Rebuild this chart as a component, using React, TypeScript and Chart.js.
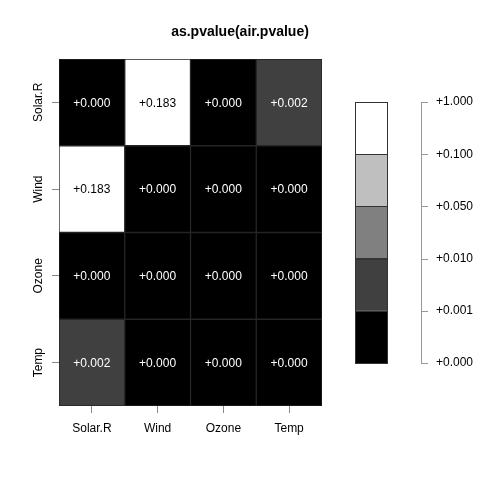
import React, { useEffect, useRef } from "react";
import { Chart, registerables } from "chart.js";

Chart.register(...registerables);

const titleText = "as.pvalue(air.pvalue)";
const colLabels = ["Solar.R", "Wind", "Ozone", "Temp"];
const rowLabels = ["Solar.R", "Wind", "Ozone", "Temp"];
const rowSolarR = [0.0, 0.183, 0.0, 0.002];
const rowWind = [0.183, 0.0, 0.0, 0.0];
const rowOzone = [0.0, 0.0, 0.0, 0.0];
const rowTemp = [0.002, 0.0, 0.0, 0.0];
const rows = [rowSolarR, rowWind, rowOzone, rowTemp];

const breaks = [0, 0.001, 0.01, 0.05, 0.1, 1];
const bandColors = ["#000000", "#404040", "#808080", "#BFBFBF", "#FFFFFF"];
const breakLabels = ["+0.000", "+0.001", "+0.010", "+0.050", "+0.100", "+1.000"];

const FONT = "'Liberation Sans', Arial, sans-serif";

function colorFor(v: number): string {
  for (let i = 0; i < bandColors.length; i++) {
    if (v >= breaks[i] && v < breaks[i + 1]) return bandColors[i];
  }
  return bandColors[bandColors.length - 1];
}

function textColorFor(v: number): string {
  const c = colorFor(v);
  return c === "#FFFFFF" || c === "#BFBFBF" ? "#000000" : "#FFFFFF";
}

const areaBgPlugin = {
  id: "areaBg",
  beforeDatasetsDraw(chart: any) {
    const { ctx, chartArea } = chart;
    ctx.save();
    ctx.fillStyle = "#161616";
    ctx.fillRect(chartArea.left, chartArea.top, chartArea.right - chartArea.left, chartArea.bottom - chartArea.top);
    ctx.restore();
  },
};

const cellTextPlugin = {
  id: "cellText",
  afterDatasetsDraw(chart: any) {
    const ctx = chart.ctx;
    ctx.save();
    ctx.font = `12px ${FONT}`;
    ctx.textAlign = "center";
    ctx.textBaseline = "middle";
    chart.data.datasets.forEach((ds: any, di: number) => {
      const meta = chart.getDatasetMeta(di);
      meta.data.forEach((el: any, i: number) => {
        const p = ds.data[i].p as number;
        const props = el.getProps(["x", "y", "base"], true);
        ctx.fillStyle = textColorFor(p);
        ctx.fillText("+" + p.toFixed(3), props.x, (props.y + props.base) / 2 + 1);
      });
    });
    ctx.restore();
  },
};

const colorbarPlugin = {
  id: "colorbar",
  afterDraw(chart: any) {
    const ctx = chart.ctx;
    const left = 355;
    const right = 388;
    const top = 102;
    const bottom = 363;
    const axisX = 421;
    const n = bandColors.length;
    const h = (bottom - top) / n;
    const yFor = (i: number) => bottom - i * h;
    ctx.save();
    for (let i = 0; i < n; i++) {
      const y0 = yFor(i + 1);
      ctx.fillStyle = bandColors[i];
      ctx.fillRect(left, y0, right - left, h);
    }
    ctx.lineWidth = 1;
    ctx.strokeStyle = "#333333";
    for (let i = 0; i < n; i++) {
      const y0 = yFor(i + 1);
      ctx.strokeRect(left + 0.5, Math.round(y0) + 0.5, right - left - 1, Math.round(h));
    }
    ctx.strokeStyle = "#999999";
    ctx.beginPath();
    ctx.moveTo(axisX + 0.5, top);
    ctx.lineTo(axisX + 0.5, bottom + 1);
    for (let i = 0; i <= n; i++) {
      const y = Math.round(yFor(i)) + 0.5;
      ctx.moveTo(axisX, y);
      ctx.lineTo(axisX + 7, y);
    }
    ctx.stroke();
    ctx.fillStyle = "#000000";
    ctx.font = `12px ${FONT}`;
    ctx.textAlign = "left";
    ctx.textBaseline = "middle";
    for (let i = 0; i <= n; i++) {
      ctx.fillText(breakLabels[i], axisX + 15, yFor(i));
    }
    ctx.restore();
  },
};

export default function App() {
  const ref = useRef<HTMLCanvasElement | null>(null);

  useEffect(() => {
    document.body.style.margin = "0";
    const canvas = ref.current;
    if (!canvas) return;

    const datasets = rows.map((vals, r) => ({
      label: rowLabels[r],
      data: vals.map((p, j) => ({ x: colLabels[j], y: 1, p })),
      backgroundColor: vals.map((p) => colorFor(p)),
      borderColor: "rgba(128,128,128,0.12)",
      borderWidth: 1,
      borderSkipped: false,
      barPercentage: 1,
      categoryPercentage: 1,
    }));

    const chart = new Chart(canvas, {
      type: "bar",
      data: { labels: colLabels, datasets: datasets as any },
      plugins: [areaBgPlugin, cellTextPlugin, colorbarPlugin],
      options: {
        responsive: false,
        animation: false,
        layout: { padding: 0 },
        plugins: {
          legend: { display: false },
          tooltip: { enabled: false },
          title: {
            display: true,
            text: titleText,
            color: "#000000",
            font: { family: FONT, size: 14, weight: "bold" },
            padding: { top: 24, bottom: 18.2 },
          },
        },
        scales: {
          x: {
            type: "category",
            stacked: true,
            offset: true,
            grid: {
              display: true,
              drawOnChartArea: false,
              drawTicks: true,
              tickLength: 7,
              color: "#888888",
              offset: false,
            },
            border: { display: false },
            ticks: {
              color: "#000000",
              font: { family: FONT, size: 12 },
              padding: 8,
              maxRotation: 0,
              minRotation: 0,
            },
            afterFit: (s: any) => {
              s.height = 74;
            },
          },
          y: {
            type: "linear",
            stacked: true,
            min: 0,
            max: rowLabels.length,
            reverse: true,
            grid: {
              display: true,
              drawOnChartArea: false,
              drawTicks: true,
              tickLength: 7,
              color: "#888888",
            },
            border: { display: false },
            afterBuildTicks: (s: any) => {
              s.ticks = rowLabels.map((_, i) => ({ value: i + 0.5 }));
            },
            ticks: {
              color: "#000000",
              font: { family: FONT, size: 12 },
              minRotation: 90,
              maxRotation: 90,
              crossAlign: "center",
              padding: -6,
              callback: (v: any) => rowLabels[Math.floor(Number(v))],
            },
            afterFit: (s: any) => {
              s.width = 59;
            },
          },
          yR: {
            type: "linear",
            position: "right",
            display: true,
            grid: { display: false },
            border: { display: false },
            ticks: { display: false },
            afterFit: (s: any) => {
              s.width = 158;
            },
          },
        },
      } as any,
    });

    return () => {
      chart.destroy();
    };
  }, []);

  return (
    <div style={{ width: 480, height: 480, background: "#ffffff" }}>
      <canvas ref={ref} width={480} height={480} style={{ display: "block" }} />
    </div>
  );
}
